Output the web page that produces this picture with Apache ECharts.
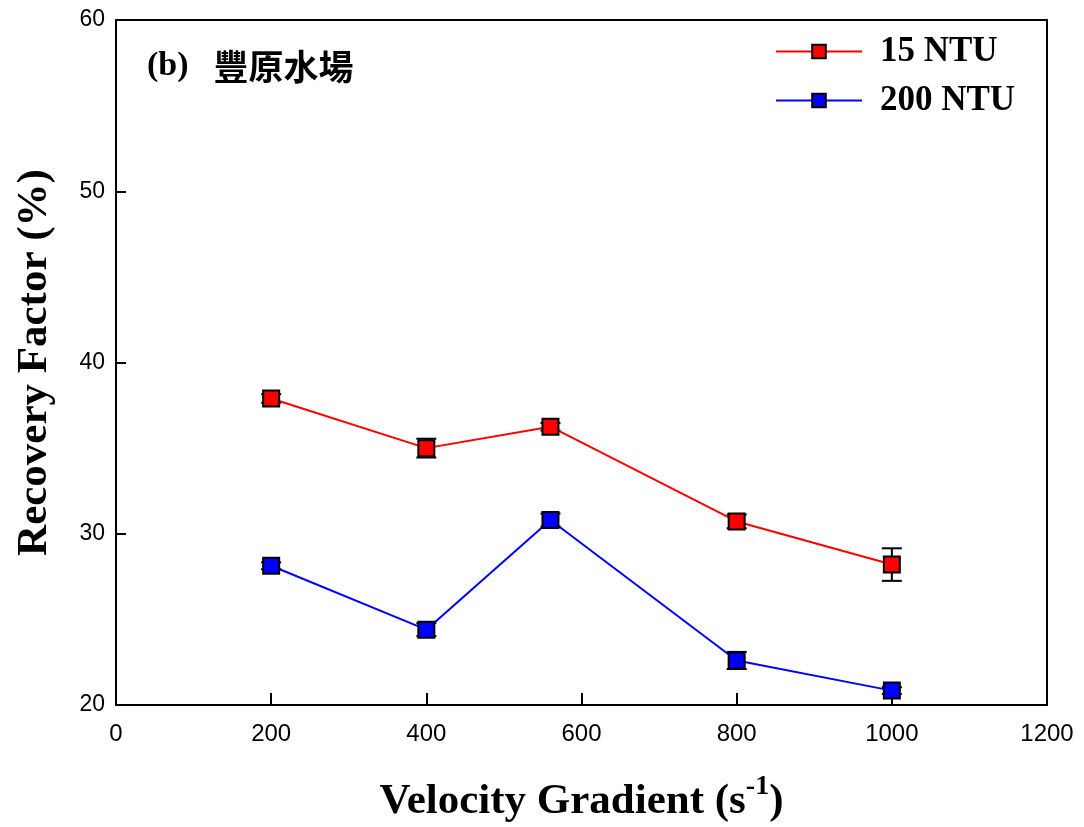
<!DOCTYPE html>
<html>
<head>
<meta charset="utf-8">
<script src="https://cdn.jsdelivr.net/npm/echarts@6/dist/echarts.min.js"></script>
<style>
    html, body { margin: 0; padding: 0; background: #fff; }
    #chart { width: 1084px; height: 827px; }
</style>
</head>
<body>
<div id="chart"></div>
<script>
// 速度梯度 (s-1)
var velocity = [200, 400, 560, 800, 1000]
// 15 NTU 回收率 及誤差
var ntu15 = [37.9, 35.0, 36.25, 30.72, 28.2]
var ntu15Err = [0.25, 0.55, 0.22, 0.4, 0.95]
// 200 NTU 回收率 及誤差
var ntu200 = [28.13, 24.4, 30.8, 22.6, 20.84]
var ntu200Err = [0.2, 0.38, 0.38, 0.5, 0.2]

var serif = '"Liberation Serif", "Times New Roman", serif'
var sans = '"Liberation Sans", Arial, sans-serif'

function pairs(xs, ys) {
    var out = []
    for (var i = 0; i < xs.length; i++) out.push([xs[i], ys[i]])
    return out
}
function errData(xs, ys, es) {
    var out = []
    for (var i = 0; i < xs.length; i++) out.push([xs[i], ys[i] - es[i], ys[i] + es[i]])
    return out
}

// 誤差棒
function renderErr(params, api) {
    var x = api.value(0)
    var lo = api.coord([x, api.value(1)])
    var hi = api.coord([x, api.value(2)])
    var half = 10
    var st = { stroke: '#000', lineWidth: 2 }
    return {
        type: 'group',
        children: [
            { type: 'line', shape: { x1: lo[0], y1: lo[1], x2: hi[0], y2: hi[1] }, style: st },
            { type: 'line', shape: { x1: lo[0] - half, y1: lo[1], x2: lo[0] + half, y2: lo[1] }, style: st },
            { type: 'line', shape: { x1: hi[0] - half, y1: hi[1], x2: hi[0] + half, y2: hi[1] }, style: st }
        ]
    }
}

var chart = echarts.init(document.getElementById('chart'))

var option = {
    backgroundColor: '#fff',
    animation: false,
    grid: {
        left: 116,
        right: 37,
        top: 20,
        bottom: 122,
        show: true,
        borderColor: '#000',
        borderWidth: 2,
        containLabel: false,
        outerBoundsMode: 'none'
    },
    legend: {
        orient: 'vertical',
        left: 770,
        top: 29,
        itemWidth: 86,
        itemHeight: 17,
        itemGap: 14,
        textStyle: { fontFamily: serif, fontWeight: 'bold', fontSize: 35, color: '#000', padding: [0, 0, 0, 13] },
        data: ['15 NTU', '200 NTU']
    },
    graphic: [{
        type: 'text',
        left: 147,
        top: 49,
        style: {
            text: '{a|(b)}{b|豐原水場}',
            rich: {
                a: { fontFamily: serif, fontWeight: 'bold', fontSize: 34, fill: '#000', verticalAlign: 'middle', lineHeight: 40 },
                b: { fontFamily: '"Noto Sans CJK TC", sans-serif', fontWeight: 'bold', fontSize: 35, fill: '#000', padding: [0, 0, 0, 25], verticalAlign: 'middle', lineHeight: 40 }
            }
        }
    }],
    xAxis: {
        type: 'value',
        min: 0,
        max: 1200,
        interval: 200,
        name: '{n|Velocity Gradient (s}{s|-1}{n|)}',
        nameLocation: 'middle',
        nameGap: 68,
        nameTextStyle: {
            rich: {
                n: { fontFamily: serif, fontWeight: 'bold', fontSize: 43, color: '#000', verticalAlign: 'bottom', lineHeight: 50 },
                s: { fontFamily: serif, fontWeight: 'bold', fontSize: 28, color: '#000', verticalAlign: 'top', lineHeight: 50, padding: [0, 0, 22, 0] }
            }
        },
        axisLine: { onZero: false, lineStyle: { color: '#000', width: 2 } },
        axisTick: { inside: true, length: 12, lineStyle: { color: '#000', width: 2 } },
        axisLabel: {
            fontFamily: sans, fontSize: 24, color: '#000', margin: 17,
            formatter: function (v) { return String(v) }
        },
        splitLine: { show: false }
    },
    yAxis: {
        type: 'value',
        min: 20,
        max: 60,
        interval: 10,
        name: 'Recovery Factor (%)',
        nameLocation: 'middle',
        nameGap: 60,
        nameTextStyle: { fontFamily: serif, fontWeight: 'bold', fontSize: 43, color: '#000' },
        axisLine: { lineStyle: { color: '#000', width: 2 } },
        axisTick: { inside: true, length: 10, lineStyle: { color: '#000', width: 2 } },
        axisLabel: { fontFamily: sans, fontSize: 23, color: '#000', margin: 11 },
        splitLine: { show: false }
    },
    series: [
        {
            name: '15 NTU err',
            type: 'custom',
            renderItem: renderErr,
            encode: { x: 0, y: [1, 2] },
            data: errData(velocity, ntu15, ntu15Err),
            z: 1
        },
        {
            name: '200 NTU err',
            type: 'custom',
            renderItem: renderErr,
            encode: { x: 0, y: [1, 2] },
            data: errData(velocity, ntu200, ntu200Err),
            z: 1
        },
        {
            name: '15 NTU',
            type: 'line',
            data: pairs(velocity, ntu15),
            symbol: 'rect',
            symbolSize: 16,
            lineStyle: { color: '#ff0000', width: 2 },
            itemStyle: { color: '#ff0000', borderColor: '#000', borderWidth: 2 },
            z: 3
        },
        {
            name: '200 NTU',
            type: 'line',
            data: pairs(velocity, ntu200),
            symbol: 'rect',
            symbolSize: 16,
            lineStyle: { color: '#0000ff', width: 2 },
            itemStyle: { color: '#0000ff', borderColor: '#000', borderWidth: 2 },
            z: 3
        }
    ]
}

chart.setOption(option)
</script>
</body>
</html>
